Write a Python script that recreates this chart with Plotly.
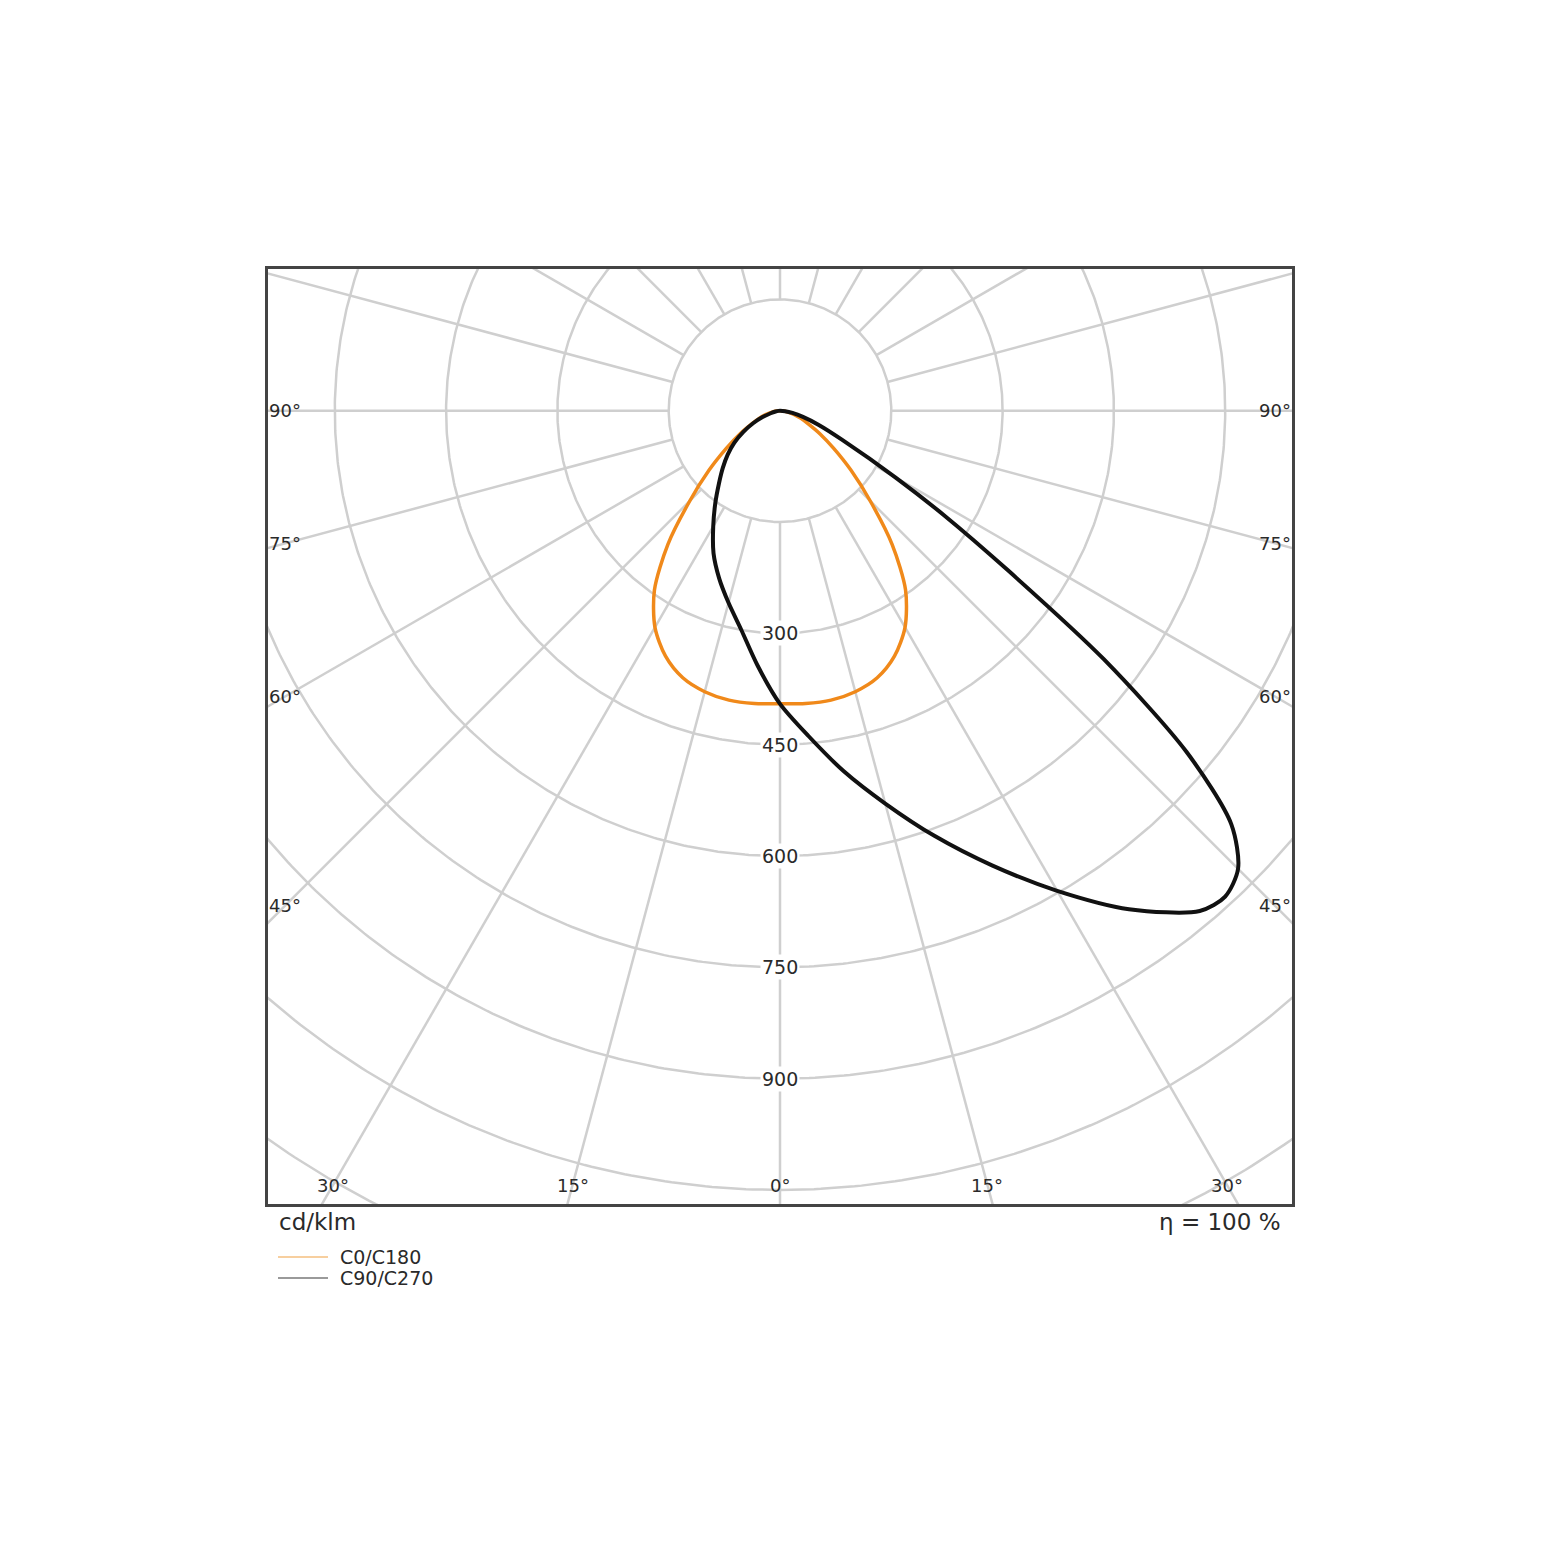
import numpy as np
import plotly.graph_objects as go

# ---------------- data (cd/klm vs gamma angle in degrees) ----------------
gamma_c0 = [0, 5, 10, 15, 20, 25, 30, 35, 40, 45, 50, 55, 60, 65, 70, 75, 80, 85, 90]
i_c0 = [395, 396, 396, 392, 383, 365, 337, 295, 235, 172, 125, 88, 62, 42, 30, 20, 11, 5, 0]

gamma_c90 = [0, 5, 10, 15, 20, 25, 30, 35, 40, 42.5, 45, 47.5, 50, 52.5, 55, 57.5, 60, 65, 70, 75, 80, 85, 90]
i_c90 = [395, 440, 493, 548, 610, 676, 747, 820, 880, 888, 873, 825, 715, 550, 375, 262, 180, 92, 55, 32, 17, 7, 0]

gamma_c270 = [0, 5, 10, 15, 20, 25, 30, 35, 40, 45, 50, 55, 60, 65, 70, 75, 80, 85, 90]
i_c270 = [395, 345, 300, 268, 240, 212, 180, 152, 128, 109, 92, 75, 57, 40, 25, 13, 6, 2, 0]

ring_values = [150, 300, 450, 600, 750, 900, 1050, 1200, 1350]
ring_labels = [300, 450, 600, 750, 900]
spoke_angles = list(range(0, 360, 15))
side_label_angles = [45, 60, 75, 90]
bottom_label_angles = [-30, -15, 0, 15, 30]

x_range = [-690, 690]
y_range = [-1069, 191]

series_names = ["C0/C180", "C90/C270"]
unit_text = "cd/klm"
eta_text = "η = 100 %"

# ---------------- helpers ----------------
def half_plane(gammas, values, sign):
    g = np.radians(np.array(gammas, dtype=float))
    v = np.array(values, dtype=float)
    return sign * v * np.sin(g), -v * np.cos(g)

GRID = "#cfcfcf"
TXT = "#2a2a2a"
FONT = "DejaVu Sans"

fig = go.Figure()

# rings
gx, gy = [], []
t = np.radians(np.linspace(0, 360, 721))
for r in ring_values:
    gx += list(r * np.sin(t)) + [None]
    gy += list(-r * np.cos(t)) + [None]
# spokes
r_in, r_out = ring_values[0], 2000
for a in spoke_angles:
    ar = np.radians(a)
    gx += [r_in * np.sin(ar), r_out * np.sin(ar), None]
    gy += [-r_in * np.cos(ar), -r_out * np.cos(ar), None]
fig.add_trace(go.Scatter(x=gx, y=gy, mode="lines", line=dict(color=GRID, width=2.5),
                         hoverinfo="skip", showlegend=False))

# C0/C180 (symmetric)
xl, yl = half_plane(gamma_c0, i_c0, -1)
xr, yr = half_plane(gamma_c0, i_c0, 1)
fig.add_trace(go.Scatter(x=list(xl[::-1]) + list(xr[1:]), y=list(yl[::-1]) + list(yr[1:]),
                         mode="lines", line=dict(color="#f0891a", width=3.5, shape="spline", smoothing=0.8),
                         name=series_names[0], showlegend=False))

# C90/C270
xl, yl = half_plane(gamma_c270, i_c270, -1)
xr, yr = half_plane(gamma_c90, i_c90, 1)
fig.add_trace(go.Scatter(x=list(xl[::-1]) + list(xr[1:]), y=list(yl[::-1]) + list(yr[1:]),
                         mode="lines", line=dict(color="#111111", width=4, shape="spline", smoothing=0.8),
                         name=series_names[1], showlegend=False))

annotations = []
# ring labels on 0° axis
for r in ring_labels:
    annotations.append(dict(x=0, y=-r, xref="x", yref="y", text=str(r), showarrow=False,
                            font=dict(family=FONT, size=19, color=TXT), bgcolor="white", borderpad=1))

# angle labels along left/right edges
px_per_unit = 1024 / (x_range[1] - x_range[0])
edge_off = 17 / px_per_unit
for a in side_label_angles:
    ar = np.radians(a)
    for s in (-1, 1):
        xe = s * (x_range[1] - edge_off)
        ye = -abs(xe) / np.tan(ar)
        annotations.append(dict(x=xe, y=ye, xref="x", yref="y", text=f"{a}°", showarrow=False,
                                font=dict(family=FONT, size=18, color=TXT)))
bot_off = 19 / px_per_unit
for a in bottom_label_angles:
    ar = np.radians(a)
    ye = y_range[0] + bot_off
    xe = -ye * np.tan(ar)
    annotations.append(dict(x=xe, y=ye, xref="x", yref="y", text=f"{abs(a)}°", showarrow=False,
                            font=dict(family=FONT, size=18, color=TXT)))

# texts below the box
annotations.append(dict(x=0.009, y=-0.0195, xref="paper", yref="paper", text=unit_text, showarrow=False,
                        xanchor="left", yanchor="middle", font=dict(family=FONT, size=23, color=TXT)))
annotations.append(dict(x=0.991, y=-0.0195, xref="paper", yref="paper", text=eta_text, showarrow=False,
                        xanchor="right", yanchor="middle", font=dict(family=FONT, size=23, color=TXT)))

# custom legend
leg_colors = ["#f7cf9f", "#9a9a9a"]
shapes = []
for k, (nm, col) in enumerate(zip(series_names, leg_colors)):
    yk = (1203 - (1256 + 21 * k)) / 935
    shapes.append(dict(type="line", xref="paper", yref="paper", x0=10 / 1024, x1=60 / 1024,
                       y0=yk, y1=yk, line=dict(color=col, width=2)))
    annotations.append(dict(x=70 / 1024, y=yk, xref="paper", yref="paper", text=nm, showarrow=False,
                            xanchor="left", yanchor="middle", font=dict(family=FONT, size=19, color=TXT)))

axis_common = dict(showgrid=False, zeroline=False, showticklabels=False, ticks="",
                   showline=True, mirror=True, linecolor="#444444", linewidth=3)
fig.update_layout(
    width=1560, height=1561,
    margin=dict(l=260, r=276, t=261, b=365),
    paper_bgcolor="white", plot_bgcolor="white",
    xaxis=dict(range=x_range, **axis_common),
    yaxis=dict(range=y_range, **axis_common),
    annotations=annotations, shapes=shapes, showlegend=False,
)
fig.write_html("out.html")
